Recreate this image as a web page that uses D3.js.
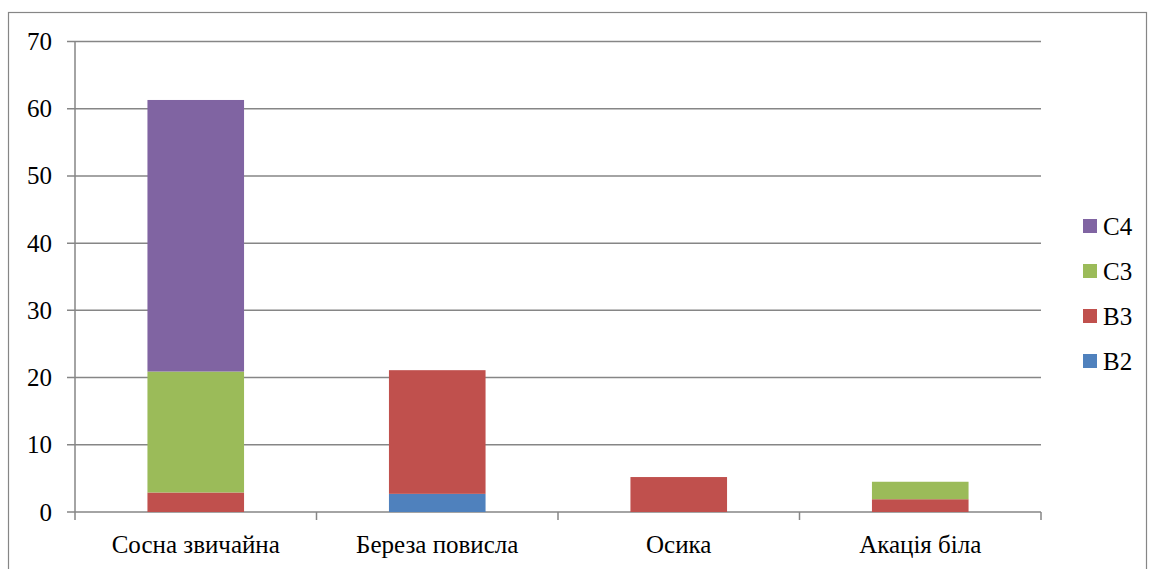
<!DOCTYPE html>
<html>
<head>
<meta charset="utf-8">
<script src="https://cdn.jsdelivr.net/npm/d3@7"></script>
<style>
  body { margin: 0; background: #fff; }
</style>
</head>
<body>
<svg id="chart" width="1151" height="569"></svg>
<script>
// species on the x axis
const categories = ["Сосна звичайна", "Береза повисла", "Осика", "Акація біла"];
// stacked series, bottom to top
const seriesNames = ["B2", "B3", "C3", "C4"];
const B2 = [0, 2.7, 0, 0];
const B3 = [2.9, 18.4, 5.2, 1.9];
const C3 = [18.0, 0, 0, 2.6];
const C4 = [40.4, 0, 0, 0];
const yTicks = [0, 10, 20, 30, 40, 50, 60, 70];
const colors = { B2: "#4F81BD", B3: "#C0504D", C3: "#9BBB59", C4: "#8064A2" };

const rows = categories.map((c, i) => ({ cat: c, B2: B2[i], B3: B3[i], C3: C3[i], C4: C4[i] }));

const svg = d3.select("#chart");
const margin = { left: 75, right: 1041, top: 41.5, bottom: 512 };

// outer frame
svg.append("rect")
    .attr("x", 8.5).attr("y", 12.5)
    .attr("width", 1138).attr("height", 570)
    .attr("fill", "none").attr("stroke", "#868686").attr("stroke-width", 1.2);

const x = d3.scaleBand()
    .domain(categories)
    .range([margin.left, margin.right])
    .paddingInner(0.6)
    .paddingOuter(0.3);

const y = d3.scaleLinear()
    .domain([0, 70])
    .range([margin.bottom, margin.top]);

// gridlines
svg.append("g")
    .selectAll("line")
    .data(yTicks)
    .join("line")
    .attr("x1", margin.left - 8).attr("x2", margin.right)
    .attr("y1", d => y(d)).attr("y2", d => y(d))
    .attr("stroke", "#868686").attr("stroke-width", 1.5);

// y axis line
svg.append("line")
    .attr("x1", margin.left).attr("x2", margin.left)
    .attr("y1", y(70)).attr("y2", y(0))
    .attr("stroke", "#868686").attr("stroke-width", 1.5);

// y labels
svg.append("g")
    .selectAll("text")
    .data(yTicks)
    .join("text")
    .attr("x", 52).attr("y", d => y(d) + 8.5)
    .attr("text-anchor", "end")
    .attr("font-family", "Liberation Serif")
    .attr("font-size", 25)
    .text(d => d);

// x ticks at band boundaries
const step = x.step();
const bounds = d3.range(categories.length + 1).map(i => margin.left + i * step);
svg.append("g")
    .selectAll("line")
    .data(bounds)
    .join("line")
    .attr("x1", d => d).attr("x2", d => d)
    .attr("y1", y(0)).attr("y2", y(0) + 8)
    .attr("stroke", "#868686").attr("stroke-width", 1.5);

// bars
const stack = d3.stack().keys(seriesNames)(rows);
svg.append("g")
    .selectAll("g")
    .data(stack)
    .join("g")
    .attr("fill", d => colors[d.key])
    .selectAll("rect")
    .data(d => d)
    .join("rect")
    .attr("x", d => x(d.data.cat))
    .attr("width", x.bandwidth())
    .attr("y", d => y(d[1]))
    .attr("height", d => y(d[0]) - y(d[1]));

// category labels
svg.append("g")
    .selectAll("text")
    .data(categories)
    .join("text")
    .attr("x", d => x(d) + x.bandwidth() / 2)
    .attr("y", 553)
    .attr("text-anchor", "middle")
    .attr("font-family", "Liberation Serif")
    .attr("font-size", 25)
    .text(d => d);

// legend, top to bottom C4..B2
const legendKeys = seriesNames.slice().reverse();
const lg = svg.append("g")
    .selectAll("g")
    .data(legendKeys)
    .join("g")
    .attr("transform", (d, i) => `translate(1083, ${226 + i * 45})`);
lg.append("rect")
    .attr("x", 0).attr("y", -7)
    .attr("width", 14).attr("height", 14)
    .attr("fill", d => colors[d]);
lg.append("text")
    .attr("x", 20).attr("y", 9)
    .attr("font-family", "Liberation Serif")
    .attr("font-size", 25)
    .text(d => d);
</script>
</body>
</html>
